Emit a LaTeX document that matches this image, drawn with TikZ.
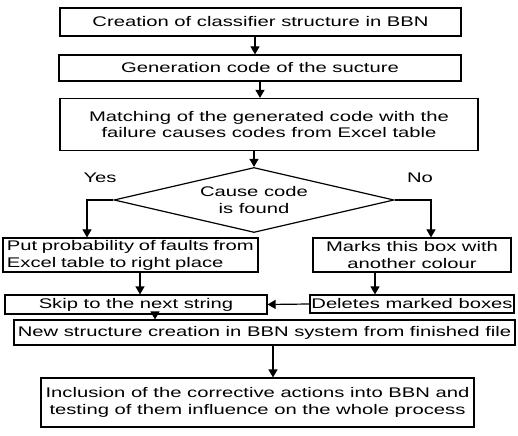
\documentclass[tikz,border=0pt]{standalone}
\usepackage{fontspec}
\setmainfont{Liberation Sans}[FakeStretch=1.45]
\usetikzlibrary{shapes.geometric,arrows.meta,positioning}

\begin{document}
\begin{tikzpicture}[x=1bp,y=-1bp, line width=1.2bp,
	font=\fontsize{14}{17}\selectfont,
	bx/.style={draw,rectangle,inner sep=0pt,align=center},
	dec/.style={draw,diamond,aspect=4.3,inner sep=0pt,align=center,
		minimum width=280bp,minimum height=65bp},
	arr/.style={-{Triangle[width=9bp,length=8bp]}}]
	\useasboundingbox (0,0) rectangle (518,436);
	% boxes
	\node[bx,minimum width=401bp,minimum height=28bp] (create) at (260.5,22) {Creation of classifier structure in BBN};
	\node[bx,minimum width=402bp,minimum height=26bp] (gen) at (260,68) {Generation code of the sucture};
	\node[bx,minimum width=418bp,minimum height=52bp] (match) at (269,124.5) {Matching of the generated code with the\\failure causes codes from Excel table};
	\node[dec] (found) at (254,200) {Cause code\\is found};
	\node[bx,align=left,text width=247bp,inner xsep=4bp,minimum height=34bp] (put) at (130.5,255) {Put probability of faults from\\Excel table to right place};
	\node[bx,minimum width=198bp,minimum height=34bp] (mark) at (412,255) {Marks this box with\\another colour};
	\node[bx,minimum width=262bp,minimum height=19bp] (skip) at (136,304.5) {Skip to the next string};
	\node[bx,minimum width=204bp,minimum height=18bp] (del) at (412,304) {Deletes marked boxes};
	\node[bx,minimum width=501bp,minimum height=25bp] (new) at (264.5,332.5) {New structure creation in BBN system from finished file};
	\node[bx,minimum width=433bp,minimum height=49bp] (incl) at (257.5,402.5) {Inclusion of the corrective actions into BBN and\\testing of them influence on the whole process};
	\node (yes) at (100,178) {Yes};
	\node (no) at (420,178) {No};
	% arrow columns
	\coordinate (c1) at (255,0);
	\coordinate (c2) at (260,0);
	\coordinate (c3) at (87,0);
	\coordinate (c4) at (431,0);
	\coordinate (c5) at (140,0);
	\coordinate (c6) at (375,0);
	\coordinate (c7) at (155,0);
	\coordinate (c8) at (273,0);
	% connectors
	\draw[arr] (create.south -| c1) -- (gen.north -| c1);
	\draw[arr] (gen.south -| c2) -- (match.north -| c2);
	\draw[arr] (match.south -| found.north) -- (found.north);
	\draw[arr] (found.west) -| (put.north -| c3);
	\draw[arr] (found.east) -| (mark.north -| c4);
	\draw[arr] (put.south -| c5) -- (skip.north -| c5);
	\draw[arr] (mark.south -| c6) -- (del.north -| c6);
	\draw[arr] (del.west) -- (skip.east);
	\draw[arr] (skip.south -| c7) -- (new.north -| c7);
	\draw[arr] (new.south -| c8) -- (incl.north -| c8);
\end{tikzpicture}
\end{document}
